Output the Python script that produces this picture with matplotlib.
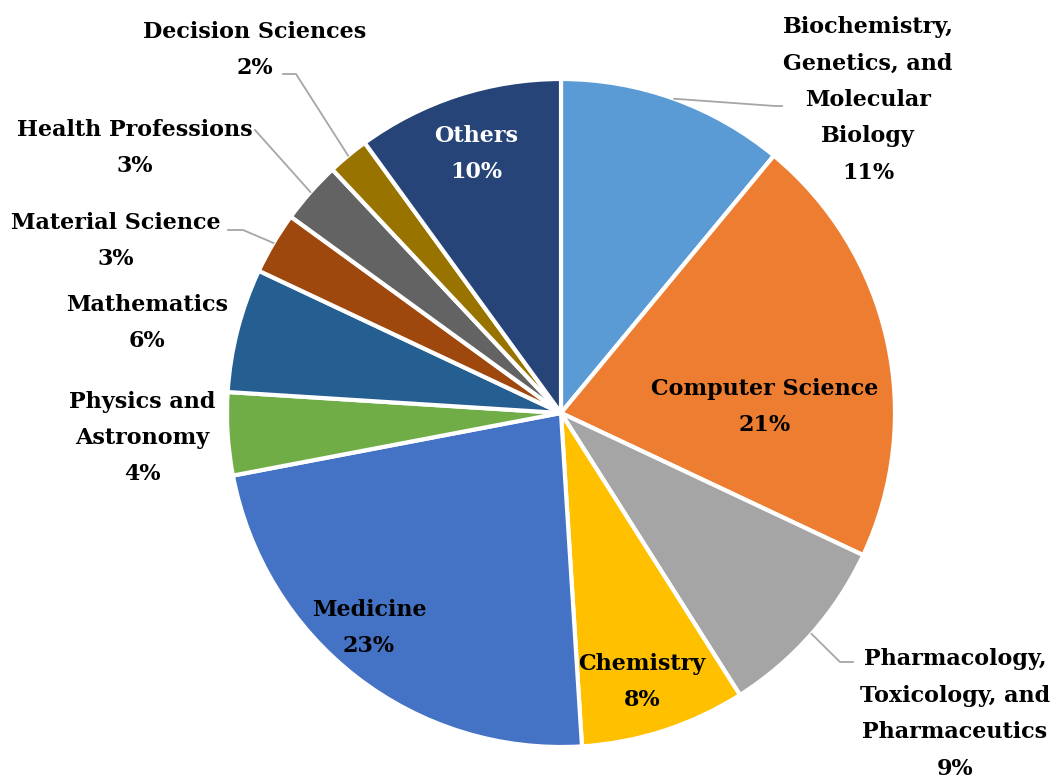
import numpy as np
import matplotlib.pyplot as plt

categories = ['Biochemistry,\nGenetics, and\nMolecular\nBiology', 'Computer Science',
              'Pharmacology,\nToxicology, and\nPharmaceutics', 'Chemistry', 'Medicine',
              'Physics and\nAstronomy', 'Mathematics', 'Material Science',
              'Health Professions', 'Decision Sciences', 'Others']
shares = [11, 21, 9, 8, 23, 4, 6, 3, 3, 2, 10]
colors = ['#5B9BD5', '#ED7D31', '#A5A5A5', '#FFC000', '#4472C4', '#70AD47',
          '#255E91', '#9E480E', '#636363', '#997300', '#264478']

W, H = 1059, 778
cx, cy, R = 561, 413, 334   # pie centre / radius in pixels (y from top)

# label centres (pixels from top-left) and leader lines (elbow, end) or None
label_pos = [(868, 100), (765, 407), (955, 714), (642, 682), (369, 628),
             (142, 438), (147, 323), (116, 241), (135, 148), (255, 50), (476, 154)]
leaders = [[(775, 106), (782, 106)], None, [(840, 662), (853, 662)], None, None,
           None, None, [(243, 230), (228, 230)], [(255, 130), (255, 130)],
           [(296, 74), (283, 74)], None]

fig = plt.figure(figsize=(W / 100, H / 100), dpi=100)
ax = fig.add_axes([0, 0, 1, 1])
ax.pie(shares, colors=colors, startangle=90, counterclock=False,
       center=(cx, H - cy), radius=R,
       wedgeprops=dict(edgecolor='white', linewidth=3))
ax.set_xlim(0, W)
ax.set_ylim(0, H)
ax.set_aspect('equal')
ax.axis('off')

font = dict(family='DejaVu Serif', weight='bold', size=16)
cum = np.cumsum([0] + shares)
total = sum(shares)
for i, name in enumerate(categories):
    x, y = label_pos[i]
    col = 'white' if name == 'Others' else 'black'
    ax.text(x, H - y, f"{name}\n{shares[i]}%", ha='center', va='center',
            color=col, linespacing=1.85, **font)
    if leaders[i] is not None:
        mid = 90 - 360 * (cum[i] + shares[i] / 2) / total
        sx = cx + R * np.cos(np.radians(mid))
        sy = cy - R * np.sin(np.radians(mid))
        pts = [(sx, sy)] + leaders[i]
        ax.plot([p[0] for p in pts], [H - p[1] for p in pts], color='#A6A6A6', lw=1.3)

fig.savefig('out.png', dpi=100)
